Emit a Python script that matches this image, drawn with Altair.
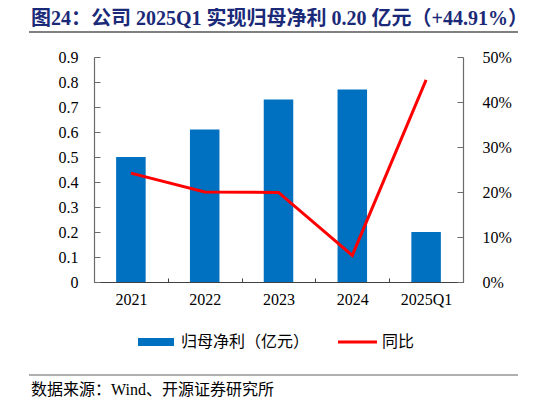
import altair as alt
import pandas as pd

# data
years = ['2021', '2022', '2023', '2024', '2025Q1']
profit = [0.50, 0.61, 0.73, 0.77, 0.20]          # 归母净利（亿元）
yoy = [0.242, 0.200, 0.199, 0.059, 0.4491]        # 同比

left_ticks = [0, 0.1, 0.2, 0.3, 0.4, 0.5, 0.6, 0.7, 0.8, 0.9]
right_ticks = [0, 0.1, 0.2, 0.3, 0.4, 0.5]

title_text = '图24：公司 2025Q1 实现归母净利 0.20 亿元（+44.91%）'
legend_bar = '归母净利（亿元）'
legend_line = '同比'
source_text = '数据来源：Wind、开源证券研究所'

FONT = 'Liberation Serif, Noto Sans CJK SC'
BLUE = '#0070C0'
RED = '#FF0000'
AXIS = '#6b6b6b'

df = pd.DataFrame({'year': years, 'profit': profit, 'yoy': yoy})
one = pd.DataFrame({'k': [0]})

x_enc = alt.X('year:N', sort=years, title=None,
              scale=alt.Scale(paddingInner=0, paddingOuter=0),
              axis=alt.Axis(labelAngle=0, labelFont=FONT, labelFontSize=16, labelColor='black',
                            domainColor='#404040', tickColor='#404040', tickBand='extent',
                            tickSize={'expr': '-4'}, labelPadding=13, domainWidth=1.2))

bars = alt.Chart(df).mark_bar(color=BLUE, width=alt.RelativeBandSize(0.4)).encode(
    x=x_enc,
    y=alt.Y('profit:Q', title=None,
            scale=alt.Scale(domain=[0, 0.9], nice=False, zero=True),
            axis=alt.Axis(values=left_ticks, grid=False, labelFont=FONT, labelFontSize=16,
                          labelColor='black', domainColor=AXIS, tickColor=AXIS,
                          tickSize={'expr': '-6'}, labelPadding=22, domainWidth=1.2,
                          labelExpr="datum.value == 0 ? '0' : format(datum.value, '.1f')"))
)

line = alt.Chart(df).mark_line(color=RED, strokeWidth=3).encode(
    x=alt.X('year:N', sort=years),
    y=alt.Y('yoy:Q', title=None,
            scale=alt.Scale(domain=[0, 0.5], nice=False),
            axis=alt.Axis(orient='right', values=right_ticks, format='.0%', grid=False,
                          labelFont=FONT, labelFontSize=16, labelColor='black',
                          domainColor=AXIS, tickColor=AXIS, tickSize={'expr': '-6'},
                          labelPadding=25, domainWidth=1.2))
)

title = alt.Chart(one).mark_text(align='left', baseline='middle', fontSize=20, fontWeight='bold',
                                 color='#1B2A78', font=FONT).encode(
    x=alt.value(-63), y=alt.value(-38), text=alt.value(title_text))
top_rule = alt.Chart(one).mark_rule(color='#808080', strokeWidth=2).encode(
    x=alt.value(-65), x2=alt.value(424), y=alt.value(-25))
bottom_rule = alt.Chart(one).mark_rule(color='#606060', strokeWidth=1).encode(
    x=alt.value(-65), x2=alt.value(424), y=alt.value(318))
source = alt.Chart(one).mark_text(align='left', baseline='middle', fontSize=16,
                                  color='black', font=FONT).encode(
    x=alt.value(-63), y=alt.value(333), text=alt.value(source_text))

leg_rect = alt.Chart(one).mark_rect(color=BLUE).encode(
    x=alt.value(44), x2=alt.value(80), y=alt.value(281), y2=alt.value(289))
leg_text1 = alt.Chart(one).mark_text(align='left', baseline='middle', fontSize=16,
                                     color='black', font=FONT).encode(
    x=alt.value(87), y=alt.value(285), text=alt.value(legend_bar))
leg_line = alt.Chart(one).mark_rule(color=RED, strokeWidth=3).encode(
    x=alt.value(244), x2=alt.value(283), y=alt.value(285))
leg_text2 = alt.Chart(one).mark_text(align='left', baseline='middle', fontSize=16,
                                     color='black', font=FONT).encode(
    x=alt.value(288), y=alt.value(285), text=alt.value(legend_line))

chart = alt.layer(
    bars, line, title, top_rule, bottom_rule, source, leg_rect, leg_text1, leg_line, leg_text2
).resolve_scale(
    y='independent'
).properties(
    width=369, height=225,
    autosize=alt.AutoSizeParams(type='none'),
    padding={'left': 86, 'top': 49, 'right': 75, 'bottom': 115},
    background='white'
).configure_view(stroke=None)

chart.save('out.html', embed_options={'renderer': 'svg', 'actions': False})
